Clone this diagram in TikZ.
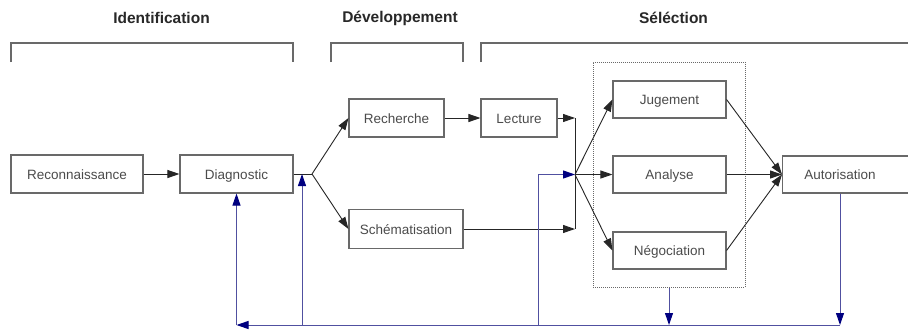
\documentclass[tikz,border=0pt]{standalone}
\usepackage{fontspec}
\setmainfont{Liberation Sans}
\usetikzlibrary{arrows.meta}
\definecolor{boxgray}{RGB}{105,105,105}
\definecolor{txtgray}{RGB}{75,75,75}
\definecolor{titlegray}{RGB}{40,40,40}
\definecolor{fbline}{RGB}{80,80,160}
\definecolor{fbtip}{RGB}{0,0,128}
\begin{document}
\begin{tikzpicture}[x=1pt,y=-1pt,
  box/.style={draw=boxgray, line width=1.1pt, fill=white, minimum height=38pt, inner sep=0pt, font=\fontsize{13.5}{15}\selectfont, text=txtgray, text height=12.5pt, text depth=2.5pt},
  boxtext/.style={inner sep=0pt, font=\fontsize{13.5}{15}\selectfont, text=txtgray, text height=12.5pt, text depth=2.5pt},
  conn/.style={draw=black!85, line width=0.9pt},
  arr/.style={conn, -{Triangle[length=12pt,width=8pt]}},
  fb/.style={draw=fbline, line width=1pt},
  fbarr/.style={fb, -{Triangle[length=12pt,width=8pt,color=fbtip]}},
  title/.style={font=\bfseries\fontsize{15.5}{18}\selectfont, text=titlegray},
  brk/.style={draw=boxgray, line width=1.1pt},
  dotbox/.style={draw=boxgray, line width=1pt, dash pattern=on 1pt off 1pt, inner sep=0pt}
]
\useasboundingbox (0,0) rectangle (908,330);
\fill[white] (0,0) rectangle (908,330);
\clip (0,0) rectangle (908,330);

% titles
\node[title] (t1) at (161.5,18) {Identification};
\node[title] (t2) at (400,18) {Développement};
\node[title] (t3) at (673.5,18) {Séléction};

% brackets
\draw[brk] (11,62) -- (11,43) -- (293,43) -- (293,62);
\draw[brk] (331,62) -- (331,43) -- (463,43) -- (463,62);
\draw[brk] (481,62) -- (481,43) -- (912,43);

% selection group
\node[dotbox, minimum width=152pt, minimum height=225pt] (sel) at (669,174.5) {};

% boxes
\node[box, minimum width=132pt] (rec) at (77,174) {Reconnaissance};
\node[box, minimum width=113pt] (diag) at (236.5,174) {Diagnostic};
\node[box, minimum width=95pt] (rech) at (396.5,118) {Recherche};
\node[box, minimum width=76pt] (lect) at (519,118) {Lecture};
\node[box, minimum width=114pt, minimum height=39pt] (schem) at (406,229) {Schématisation};
\node[box, minimum width=113pt, minimum height=37pt] (jug) at (669.5,99.5) {Jugement};
\node[box, minimum width=113pt, minimum height=37pt] (ana) at (669.5,174.5) {Analyse};
\node[box, minimum width=113pt, minimum height=37pt] (neg) at (669.5,250.5) {Négociation};
\node[box, minimum width=140pt, minimum height=37pt, anchor=west] (aut) at (782,174.5) {};
\node[boxtext] (autlab) at (840,174.5) {Autorisation};

% junctions
\coordinate (j1) at (312,174);
\coordinate (j2) at (575,174.5);
\coordinate (l2) at (575,118);
\coordinate (s2) at (575,229);

% main flow
\draw[arr] (rec) -- (diag);
\draw[conn] (diag.east) -- (j1);
\draw[arr] (j1) -- (rech.west);
\draw[arr] (j1) -- (schem.west);
\draw[arr] (rech) -- (lect);
\draw[arr] (lect.east) -- (l2);
\draw[arr] (schem.east) -- (s2);
\draw[conn] (l2) -- (s2);
\draw[arr] (j2) -- (jug.west);
\draw[arr] (j2) -- (ana.west);
\draw[arr] (j2) -- (neg.west);
\draw[arr] (jug.east) -- (aut.west);
\draw[arr] (ana.east) -- (aut.west);
\draw[arr] (neg.east) -- (aut.west);

% feedback
\coordinate (fbA) at (840,325);
\coordinate (fbD) at (669,325);
\coordinate (fbL) at (236.5,325);
\coordinate (fbM) at (302,325);
\coordinate (fbS) at (538,325);
\draw[fbarr] (fbA |- aut.south) -- (fbA);
\draw[fbarr] (sel.south) -- (fbD);
\draw[fbarr] (fbA) -- (fbL);
\draw[fbarr] (fbL) -- (diag.south);
\draw[fbarr] (fbM) -- (fbM |- j1);
\draw[fbarr] (fbS) |- (j2);
\end{tikzpicture}
\end{document}
